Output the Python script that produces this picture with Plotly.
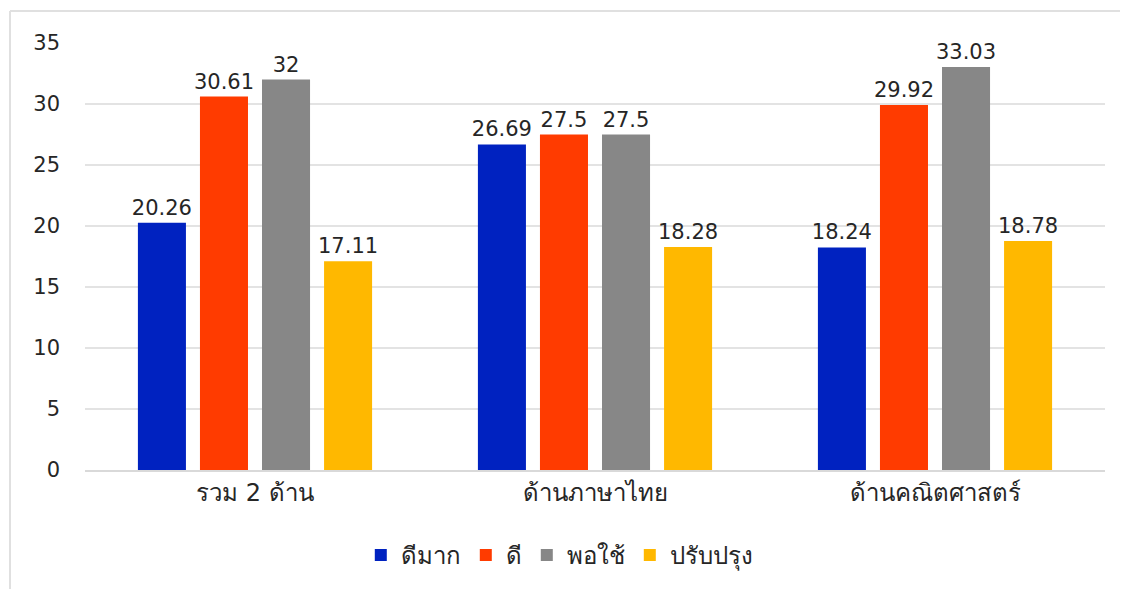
import plotly.graph_objects as go

categories = ["รวม 2 ด้าน", "ด้านภาษาไทย", "ด้านคณิตศาสตร์"]
series_names = ["ดีมาก", "ดี", "พอใช้", "ปรับปรุง"]
very_good = [20.26, 26.69, 18.24]
good = [30.61, 27.5, 29.92]
fair = [32, 27.5, 33.03]
improve = [17.11, 18.28, 18.78]
y_ticks = [0, 5, 10, 15, 20, 25, 30, 35]

colors = ["#0022C0", "#FF3B00", "#878787", "#FFB800"]
values = [very_good, good, fair, improve]

FONT = "DejaVu Sans, Noto Sans, sans-serif"

fig = go.Figure()
for name, vals, col in zip(series_names, values, colors):
    fig.add_trace(go.Bar(
        x=categories, y=vals, name=name,
        marker=dict(color=col, line=dict(width=0)),
        text=[f"{v:g}" for v in vals], textposition="outside",
        constraintext="none",
        textfont=dict(size=21, color="#262626", family=FONT),
        cliponaxis=False,
    ))

fig.update_layout(
    width=1128, height=589,
    margin=dict(l=77, r=31, t=35, b=127),
    paper_bgcolor="white", plot_bgcolor="white",
    barmode="group", bargap=0.27, bargroupgap=0.226,
    font=dict(family=FONT, size=21, color="#262626"),
    uniformtext=dict(mode=False),
    showlegend=True,
    legend=dict(orientation="h", x=0.465, xanchor="center", y=-0.2, yanchor="middle",
                font=dict(size=24, family=FONT), itemwidth=30, traceorder="normal"),
    xaxis=dict(showline=True, linecolor="#D9D9D9", linewidth=1.5, ticks="",
               tickfont=dict(size=24, family=FONT)),
    yaxis=dict(range=[0, 35], tickvals=y_ticks, showgrid=True, gridcolor="#E3E3E3",
               gridwidth=1.5, zeroline=False, ticks="", ticklen=0,
               tickfont=dict(size=21, family=FONT), ticklabelstandoff=24),
    shapes=[
        dict(type="line", xref="paper", yref="paper", x0=-0.0735, x1=1.04, y0=1.075, y1=1.075,
             line=dict(color="#E0E0E0", width=2)),
        dict(type="line", xref="paper", yref="paper", x0=-0.0735, x1=-0.0735, y0=1.075, y1=-0.3,
             line=dict(color="#E0E0E0", width=2)),
    ],
)

fig.write_html("out.html")
